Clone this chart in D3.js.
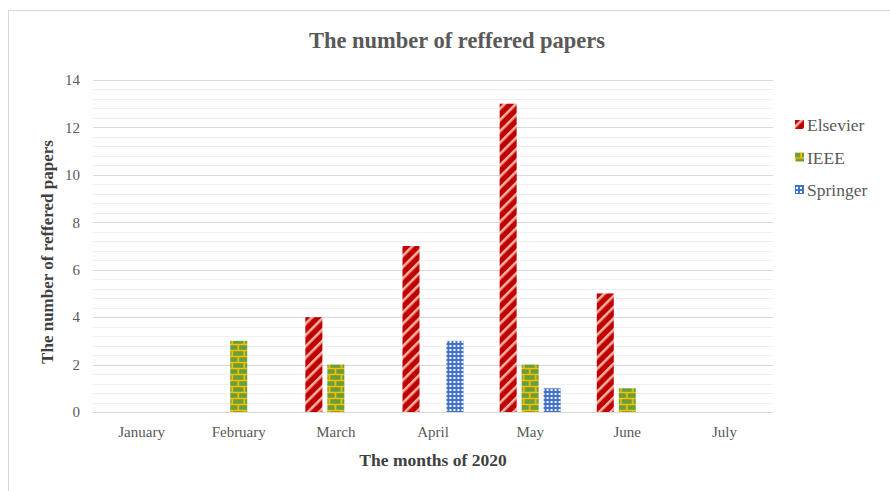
<!DOCTYPE html>
<html>
<head>
<meta charset="utf-8">
<script src="https://cdn.jsdelivr.net/npm/d3@7"></script>
<style>
  body { margin: 0; background: #fff; }
  text { font-family: "Liberation Serif", "Times New Roman", serif; }
</style>
</head>
<body>
<div id="chart"></div>
<script>
const months = ['January', 'February', 'March', 'April', 'May', 'June', 'July']
const publishers = ['Elsevier', 'IEEE', 'Springer']
const elsevier = [0, 0, 4, 7, 13, 5, 0]
const ieee = [0, 3, 2, 0, 2, 1, 0]
const springer = [0, 0, 0, 3, 1, 0, 0]
const yTicks = [0, 2, 4, 6, 8, 10, 12, 14]

const series = { Elsevier: elsevier, IEEE: ieee, Springer: springer }

const W = 890, H = 491
const margin = { top: 80, right: 117, bottom: 79, left: 93 }
const width = W - margin.left - margin.right
const height = H - margin.top - margin.bottom

const svg = d3.select('#chart').append('svg')
  .attr('width', W)
  .attr('height', H)

// fill patterns, office style
const defs = svg.append('defs')

const pStripe = defs.append('pattern')
  .attr('id', 'p-Elsevier')
  .attr('patternUnits', 'userSpaceOnUse')
  .attr('width', 8).attr('height', 8)
  .attr('patternTransform', 'rotate(45)')
pStripe.append('rect').attr('width', 8).attr('height', 8).attr('fill', '#C00000')
pStripe.append('rect').attr('width', 2.6).attr('height', 8).attr('fill', '#F7B0A3')

const pBrick = defs.append('pattern')
  .attr('id', 'p-IEEE')
  .attr('patternUnits', 'userSpaceOnUse')
  .attr('width', 12).attr('height', 12)
pBrick.append('rect').attr('width', 12).attr('height', 12).attr('fill', '#FFC000')
pBrick.append('rect').attr('x', 1).attr('y', 1.2).attr('width', 10.4).attr('height', 4.6).attr('fill', '#6A9E3A')
pBrick.append('rect').attr('x', -5).attr('y', 7.2).attr('width', 10.4).attr('height', 4.6).attr('fill', '#6A9E3A')
pBrick.append('rect').attr('x', 7).attr('y', 7.2).attr('width', 10.4).attr('height', 4.6).attr('fill', '#6A9E3A')

const pDot = defs.append('pattern')
  .attr('id', 'p-Springer')
  .attr('patternUnits', 'userSpaceOnUse')
  .attr('width', 4).attr('height', 4)
pDot.append('rect').attr('width', 4).attr('height', 4).attr('fill', '#4472C4')
pDot.append('rect').attr('x', 1).attr('y', 1).attr('width', 2).attr('height', 2).attr('fill', '#ffffff')

// outer frame
svg.append('rect')
  .attr('x', 8.5).attr('y', 10.5)
  .attr('width', W + 10).attr('height', H + 10)
  .attr('fill', 'none')
  .attr('stroke', '#d9d9d9')

const g = svg.append('g')
  .attr('transform', `translate(${margin.left}, ${margin.top})`)

const x0 = d3.scaleBand()
  .domain(months)
  .range([0, width])

const x1 = d3.scaleBand()
  .domain(publishers)
  .range([x0.bandwidth() / 2 - 30.5, x0.bandwidth() / 2 + 30.5])
  .paddingInner(0.227)

const y = d3.scaleLinear()
  .domain([0, 14])
  .range([height, 0])

// minor grid
const minor = d3.range(0, 14.01, 0.4).filter(v => Math.abs(v / 2 - Math.round(v / 2)) > 0.01)
g.append('g')
  .selectAll('line')
  .data(minor)
  .enter().append('line')
  .attr('x1', 0).attr('x2', width)
  .attr('y1', d => Math.round(y(d)) + 0.5)
  .attr('y2', d => Math.round(y(d)) + 0.5)
  .attr('stroke', '#f0f0f0')

// major grid
g.append('g')
  .selectAll('line')
  .data(yTicks)
  .enter().append('line')
  .attr('x1', 0).attr('x2', width)
  .attr('y1', d => Math.round(y(d)) + 0.5)
  .attr('y2', d => Math.round(y(d)) + 0.5)
  .attr('stroke', '#d9d9d9')

// bars
g.append('g')
  .selectAll('g')
  .data(months)
  .enter().append('g')
  .attr('transform', d => `translate(${x0(d)},0)`)
  .selectAll('rect')
  .data((d, i) => publishers.map(key => ({ key: key, value: series[key][i] })))
  .enter().append('rect')
  .filter(d => d.value > 0)
  .attr('x', d => x1(d.key))
  .attr('y', d => y(d.value))
  .attr('width', x1.bandwidth())
  .attr('height', d => y(0) - y(d.value))
  .attr('fill', d => `url(#p-${d.key})`)

// y axis labels
g.append('g')
  .selectAll('text')
  .data(yTicks)
  .enter().append('text')
  .attr('x', -13)
  .attr('y', d => y(d))
  .attr('dy', '0.35em')
  .attr('text-anchor', 'end')
  .attr('font-size', 15)
  .attr('fill', '#595959')
  .text(d => d)

// x axis labels
g.append('g')
  .selectAll('text')
  .data(months)
  .enter().append('text')
  .attr('x', d => x0(d) + x0.bandwidth() / 2)
  .attr('y', height + 25)
  .attr('text-anchor', 'middle')
  .attr('font-size', 15)
  .attr('fill', '#595959')
  .text(d => d)

// titles
svg.append('text')
  .attr('x', 457).attr('y', 48)
  .attr('text-anchor', 'middle')
  .attr('font-size', 22.5)
  .attr('font-weight', 'bold')
  .attr('fill', '#595959')
  .text('The number of reffered papers')

svg.append('text')
  .attr('x', 433).attr('y', 466)
  .attr('text-anchor', 'middle')
  .attr('font-size', 17.5)
  .attr('font-weight', 'bold')
  .attr('fill', '#404040')
  .text('The months of 2020')

svg.append('text')
  .attr('transform', `translate(53, ${margin.top + height / 2 + 6}) rotate(-90)`)
  .attr('text-anchor', 'middle')
  .attr('font-size', 17)
  .attr('font-weight', 'bold')
  .attr('fill', '#404040')
  .text('The number of reffered papers')

// legend
const legend = svg.append('g')
  .selectAll('g')
  .data(publishers)
  .enter().append('g')
  .attr('transform', (d, i) => `translate(795, ${125 + i * 32.5})`)

legend.append('rect')
  .attr('x', 0).attr('y', -5)
  .attr('width', 9).attr('height', 9)
  .attr('fill', d => `url(#p-${d})`)

legend.append('text')
  .attr('x', 12)
  .attr('y', 0)
  .attr('dy', '0.35em')
  .attr('font-size', 17.5)
  .attr('fill', '#595959')
  .text(d => d)
</script>
</body>
</html>
